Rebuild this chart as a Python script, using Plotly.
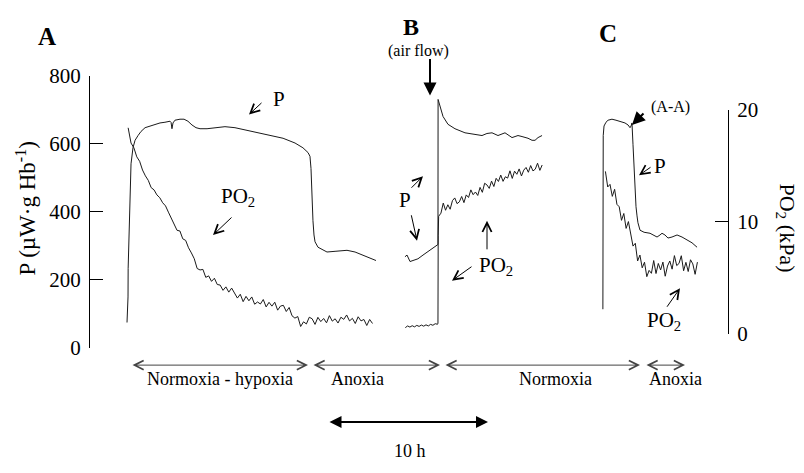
import plotly.graph_objects as go

# ---------------- data (time in h, P in uW/g Hb, PO2 in kPa) ----------------
# Panel A
A_P_T = [0.00, 0.09, 0.10, 0.17, 0.26, 0.35, 0.52, 0.70, 0.96, 1.22, 1.57, 2.00, 2.43, 2.87, 3.30, 3.74,
         3.83, 3.91, 4.00, 4.17, 4.61, 4.96, 5.30, 5.65, 6.00, 6.35, 6.96, 7.65, 8.52, 9.39, 10.26, 11.30,
         12.43, 13.57, 14.61, 15.30, 15.74, 15.91, 16.00, 16.05, 16.09, 16.17, 16.26, 16.35, 16.61, 17.04,
         17.39, 18.09, 19.13, 19.83, 20.26, 20.96, 21.65]
A_P = [75, 150, 234, 346, 457, 541, 588, 610, 624, 636, 647, 652, 658, 661, 663, 666,
       663, 644, 661, 669, 672, 672, 666, 655, 647, 644, 644, 647, 650, 647, 641, 633,
       624, 616, 602, 588, 574, 563, 527, 477, 429, 374, 332, 312, 296, 287,
       282, 284, 287, 282, 276, 268, 257]

A_PO2_T = [0.10, 0.35, 0.60, 0.85, 1.10, 1.35, 1.60, 1.85, 2.10, 2.35, 2.60, 2.85, 3.10, 3.35, 3.60, 3.85,
           4.10, 4.35, 4.60, 4.85, 5.10, 5.35, 5.60, 5.85, 6.10, 6.35, 6.60, 6.85, 7.10, 7.35, 7.60, 7.85,
           8.10, 8.35, 8.60, 8.85, 9.10, 9.35, 9.60, 9.85, 10.10, 10.35, 10.60, 10.85, 11.10, 11.35, 11.60,
           11.85, 12.10, 12.35, 12.60, 12.85, 13.10, 13.35, 13.60, 13.85, 14.10, 14.35, 14.60, 14.85, 15.10,
           15.35, 15.60, 15.85, 16.10, 16.35, 16.60, 16.85, 17.10, 17.35, 17.60, 17.85, 18.10, 18.35, 18.60,
           18.85, 19.10, 19.35, 19.60, 19.85, 20.10, 20.35, 20.60, 20.85, 21.10, 21.35]
A_PO2 = [18.39, 17.03, 16.60, 15.80, 15.40, 14.62, 14.10, 13.70, 13.05, 12.85, 12.40, 12.15, 11.70, 11.42, 10.86, 10.30,
         9.86, 9.24, 9.18, 8.48, 8.34, 7.68, 7.22, 6.70, 5.83, 5.70, 5.75, 5.04, 5.17, 4.68, 4.96, 4.40,
         4.35, 3.88, 4.19, 3.72, 4.08, 3.63, 3.19, 3.53, 2.87, 3.34, 2.95, 3.29, 2.64, 2.84, 2.66,
         3.06, 2.40, 2.81, 2.47, 2.82, 2.11, 2.48, 2.54, 1.99, 2.35, 1.61, 1.40, 1.54, 0.65,
         1.07, 0.88, 1.48, 1.34, 0.84, 1.47, 1.09, 1.37, 0.98, 1.62, 1.13, 1.34, 0.96, 1.48,
         1.29, 1.68, 1.15, 1.38, 0.92, 1.52, 1.15, 1.28, 0.74, 1.28, 0.92]

# Panel B
B_P_T = [24.17, 24.35, 24.61, 24.87, 25.30, 25.74, 26.17, 26.52, 26.78, 27.04, 27.05, 27.22, 27.48, 27.91,
         28.52, 29.39, 30.52, 30.87, 31.30, 31.74, 32.26, 32.61, 32.87, 33.22, 33.48, 33.74, 34.00, 34.35,
         34.87, 35.22, 35.48, 35.74, 36.09]
B_P = [268, 273, 254, 257, 262, 273, 284, 293, 298, 304, 730, 708, 680, 657,
       644, 632, 627, 624, 630, 632, 624, 630, 632, 624, 618, 621, 624, 621,
       616, 610, 610, 618, 624]

B_PO2_T = [24.2, 24.4, 24.6, 24.8, 25.0, 25.2, 25.4, 25.6, 25.8, 26.0, 26.2, 26.4, 26.6, 26.8, 27.0, 27.04,
           27.06, 27.10, 27.30, 27.50, 27.70, 27.90, 28.10, 28.30, 28.50, 28.70, 28.90, 29.10, 29.30, 29.50,
           29.70, 29.90, 30.10, 30.30, 30.50, 30.70, 30.90, 31.10, 31.30, 31.50, 31.70, 31.90, 32.10, 32.30,
           32.50, 32.70, 32.90, 33.10, 33.30, 33.50, 33.70, 33.90, 34.10, 34.30, 34.50, 34.70, 34.90, 35.10,
           35.30, 35.50, 35.70, 35.90, 36.10]
B_PO2 = [0.55, 0.70, 0.60, 0.72, 0.62, 0.75, 0.66, 0.78, 0.68, 0.80, 0.70, 0.84, 0.76, 0.90, 0.85, 0.95,
         8.80, 10.49, 10.77, 11.67, 11.03, 11.52, 11.12, 11.89, 12.13, 11.62, 11.78, 12.26, 11.71, 12.40,
         12.17, 12.85, 12.42, 12.66, 12.35, 13.07, 12.63, 13.44, 13.29, 12.98, 13.63, 13.15, 13.88, 13.60,
         14.17, 13.61, 14.02, 13.90, 14.55, 13.87, 14.52, 14.24, 14.72, 14.09, 14.61, 14.85, 14.42, 15.02,
         14.54, 14.70, 15.23, 14.59, 15.07]

# Panel C
C_P_T = [41.38, 41.39, 41.40, 41.41, 41.48, 41.65, 41.83, 42.17, 42.52, 42.87, 43.30, 43.57, 43.74, 43.83,
         43.91, 44.00, 44.09, 44.17, 44.26, 44.35, 44.43, 44.61, 44.96, 45.48, 45.83, 46.09, 46.35, 46.52,
         46.78, 47.04, 47.39, 47.83, 48.26, 48.70, 49.13, 49.57]
C_P = [114, 290, 485, 624, 652, 663, 669, 672, 669, 666, 661, 655, 647, 652,
       661, 597, 527, 457, 415, 388, 368, 346, 340, 337, 332, 326, 332, 337,
       332, 323, 326, 332, 326, 318, 309, 296]

C_PO2_T = [41.6, 41.8, 42.0, 42.2, 42.4, 42.6, 42.8, 43.0, 43.2, 43.4, 43.6, 43.8, 44.0, 44.2, 44.4, 44.6,
           44.8, 45.0, 45.2, 45.4, 45.6, 45.8, 46.0, 46.2, 46.4, 46.6, 46.8, 47.0, 47.2, 47.4, 47.6, 47.8,
           48.0, 48.2, 48.4, 48.6, 48.8, 49.0, 49.2, 49.4, 49.6]
C_PO2 = [14.50, 13.11, 13.34, 12.27, 12.90, 11.56, 11.34, 10.13, 10.74, 9.41, 10.02, 9.04, 7.83, 8.08, 6.50, 7.03,
         5.89, 6.39, 5.10, 5.66, 5.40, 6.54, 5.38, 6.28, 5.70, 6.40, 5.14, 6.05, 6.50, 5.77, 6.98, 6.09,
         6.28, 6.97, 5.63, 6.38, 5.56, 6.61, 6.24, 5.31, 6.40]

P_TICKS = [0, 200, 400, 600, 800]
PO2_TICKS = [0, 10, 20]

# ---------------- figure ----------------
W, H = 804, 473
FONT = "Liberation Serif"
LINE = dict(color="#1a1a1a", width=1)

fig = go.Figure()
for t, v in [(A_P_T, A_P), (B_P_T, B_P), (C_P_T, C_P)]:
    fig.add_trace(go.Scatter(x=t, y=v, mode="lines", line=LINE, xaxis="x", yaxis="y",
                             hoverinfo="skip", cliponaxis=False))
for t, v in [(A_PO2_T, A_PO2), (B_PO2_T, B_PO2), (C_PO2_T, C_PO2)]:
    fig.add_trace(go.Scatter(x=t, y=v, mode="lines", line=LINE, xaxis="x", yaxis="y2",
                             hoverinfo="skip", cliponaxis=False))


def X(p):
    return p / W


def Y(p):
    return 1 - p / H


def txt(x, y, s, size, angle=0):
    return dict(x=X(x), y=Y(y), xref="paper", yref="paper", text=s, showarrow=False,
                font=dict(family=FONT, size=size, color="black"), xanchor="center", yanchor="middle",
                textangle=angle)


def arr(x0, y0, x1, y1, head=5, size=1.8, width=1, both=False, color="black"):
    d = dict(x=X(x1), y=Y(y1), xref="paper", yref="paper", ax=x0 - x1, ay=y0 - y1,
             axref="pixel", ayref="pixel", text="", showarrow=True, arrowhead=head,
             arrowsize=size, arrowwidth=width, arrowcolor=color, standoff=0)
    if both:
        d.update(arrowside="end+start", startarrowhead=head, startarrowsize=size, startstandoff=0)
    return d


ann = [
    txt(47, 26, "<b>A</b>", 25), txt(411, 16, "<b>B</b>", 24), txt(608, 23, "<b>C</b>", 25),
    txt(279, 92, "P", 21), txt(238, 195, "PO<sub>2</sub>", 21),
    txt(418, 41, "(air flow)", 16),
    txt(405, 198, "P", 21), txt(496, 268, "PO<sub>2</sub>", 21),
    txt(670, 100, "(A-A)", 16), txt(660, 162, "P", 21), txt(664, 325, "PO<sub>2</sub>", 21),
    txt(220, 387, "Normoxia - hypoxia", 18), txt(357, 387, "Anoxia", 18),
    txt(555, 387, "Normoxia", 18), txt(675, 387, "Anoxia", 18),
    txt(410, 462, "10 h", 18),
    txt(26, 207, "P (µW·g Hb<sup>-1</sup>)", 23, angle=-90),
    txt(786, 227, "PO<sub>2</sub> (kPa)", 22, angle=90),
    arr(263, 95, 249, 108), arr(233, 216, 213, 235),
    arr(430, 50, 430, 88, head=2, size=1.3, width=2),
    arr(410, 186, 423, 173), arr(411, 214, 417, 241), arr(487, 250, 487, 220), arr(473, 268, 452, 283),
    arr(645, 106, 632, 119, head=2, size=1.3, width=2),
    arr(652, 163, 639, 172), arr(666, 311, 680, 291),
    arr(131, 372, 308, 372, both=True, color="#444"), arr(312, 372, 440, 372, both=True, color="#444"),
    arr(444, 372, 640, 372, both=True, color="#444"), arr(645, 372, 685, 372, both=True, color="#444"),
    arr(328, 432, 488, 432, head=2, size=1.2, width=2, both=True),
]

axis_common = dict(showgrid=False, zeroline=False, showline=True, linecolor="black", linewidth=1,
                   ticks="inside", ticklen=13, tickwidth=1, tickcolor="black",
                   tickfont=dict(family=FONT, size=21, color="black"))

fig.update_layout(
    width=W, height=H, autosize=False, showlegend=False,
    margin=dict(l=0, r=0, t=0, b=0, pad=0),
    paper_bgcolor="white", plot_bgcolor="rgba(0,0,0,0)",
    xaxis=dict(domain=[X(90), X(728)], range=[-3.217, 52.26], visible=False),
    yaxis=dict(domain=[Y(354), Y(67)], range=[0, 800], tickvals=P_TICKS, anchor="x",
               ticklabelstandoff=4, **axis_common),
    yaxis2=dict(domain=[Y(339), Y(103)], range=[0, 20], tickvals=PO2_TICKS, anchor="x", side="right",
                ticklabelstandoff=4, **axis_common),
    annotations=ann,
)

fig.write_html("out.html", config={"displayModeBar": False},
               post_script="document.body.style.margin='0';document.body.style.overflow='hidden';")
